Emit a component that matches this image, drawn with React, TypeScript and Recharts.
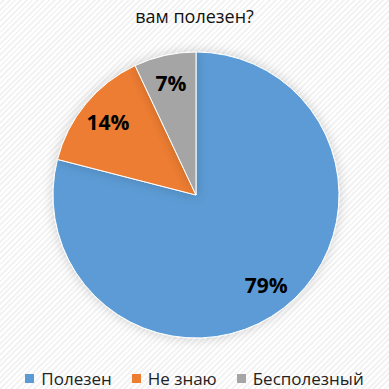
import { Cell, Legend, Pie, PieChart } from 'recharts'

const categories = ['Полезен', 'Не знаю', 'Бесполезный']
const shares = [79, 14, 7]
const colors = ['#5B9BD5', '#ED7D31', '#A5A5A5']

const data = categories.map((name, i) => ({ name, value: shares[i] }))

const RADIAN = Math.PI / 180

function renderLabel(props: any) {
    const { cx, cy, midAngle, outerRadius, value } = props
    const r = outerRadius * 0.8
    const x = cx + r * Math.cos(-midAngle * RADIAN)
    const y = cy + r * Math.sin(-midAngle * RADIAN)
    return (
        <text x={x} y={y} textAnchor="middle" dominantBaseline="central" fill="#000" fontSize={21} fontWeight={700}>
            {`${value}%`}
        </text>
    )
}

function LegendContent() {
    return (
        <div style={{ display: 'flex', justifyContent: 'center', gap: 20, fontSize: 17, color: '#222' }}>
            {categories.map((name, i) => (
                <div key={name} style={{ display: 'flex', alignItems: 'center' }}>
                    <span style={{ width: 9, height: 9, background: colors[i], marginRight: 7 }} />
                    <span>{name}</span>
                </div>
            ))}
        </div>
    )
}

export default function App() {
    return (
        <div
            style={{
                position: 'absolute',
                left: 0,
                top: 0,
                width: 389,
                height: 389,
                fontFamily: '"Open Sans", sans-serif',
                background: 'repeating-linear-gradient(135deg, #ffffff 0 2px, #f3f3f3 2px 4px)',
            }}
        >
            <div style={{ position: 'absolute', top: 4, width: 389, textAlign: 'center', fontSize: 18, color: '#111' }}>
                вам полезен?
            </div>
            <PieChart
                width={389}
                height={389}
                margin={{ top: 0, right: 0, bottom: 0, left: 0 }}
                style={{ position: 'absolute', left: 0, top: 0 }}
            >
                <defs>
                    <filter id="glow" x="-20%" y="-20%" width="140%" height="140%">
                        <feDropShadow dx="0" dy="0" stdDeviation="6" floodColor="#000" floodOpacity="0.18" />
                    </filter>
                </defs>
                <Pie
                    data={data}
                    dataKey="value"
                    nameKey="name"
                    cx={196}
                    cy={195}
                    outerRadius={143}
                    startAngle={90}
                    endAngle={-270}
                    stroke="#ffffff"
                    strokeWidth={1}
                    label={renderLabel}
                    labelLine={false}
                    isAnimationActive={false}
                    style={{ filter: 'url(#glow)' }}
                >
                    {data.map((d, i) => (
                        <Cell key={d.name} fill={colors[i]} />
                    ))}
                </Pie>
                <Legend verticalAlign="bottom" wrapperStyle={{ bottom: -1 }} content={LegendContent} />
            </PieChart>
        </div>
    )
}
